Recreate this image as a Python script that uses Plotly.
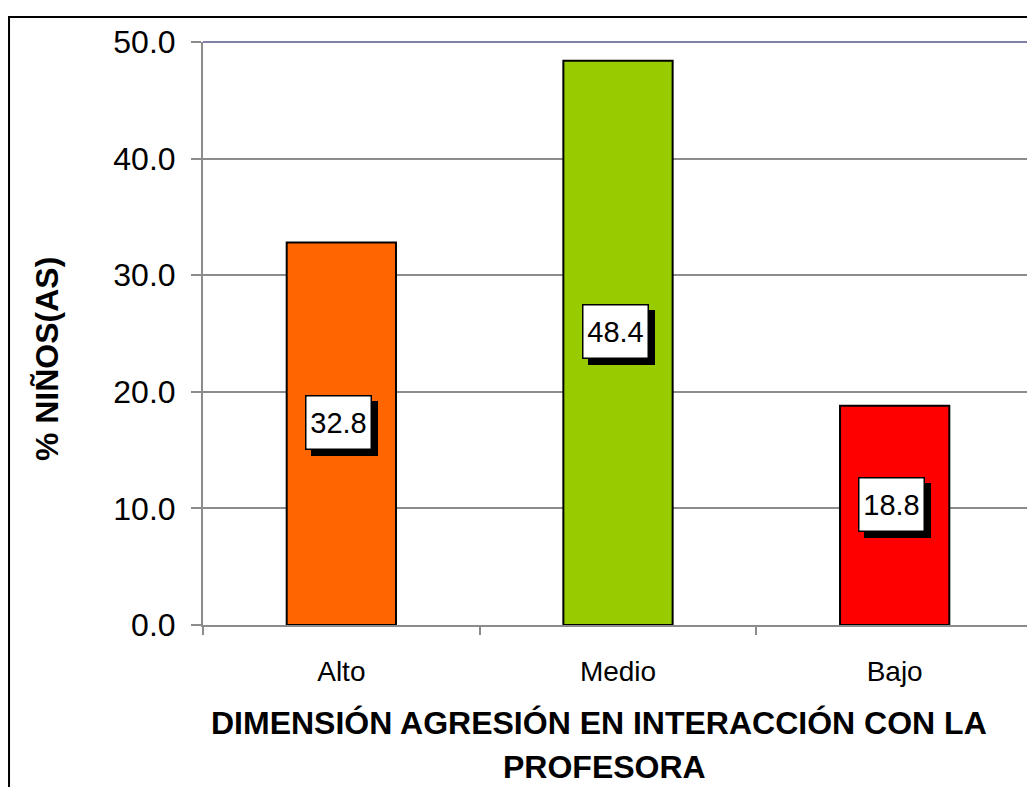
import plotly.graph_objects as go

categories = ["Alto", "Medio", "Bajo"]
values = [32.8, 48.4, 18.8]
bar_colors = ["#FF6600", "#99CC00", "#FF0000"]
y_ticks = [0, 10, 20, 30, 40, 50]
y_title = "% NIÑOS(AS)"
x_title_lines = ["DIMENSIÓN AGRESIÓN EN INTERACCIÓN CON LA", "PROFESORA"]

FONT = "Liberation Sans, Arial, sans-serif"

fig = go.Figure()
fig.add_trace(go.Bar(
    x=categories, y=values, width=0.395,
    marker=dict(color=bar_colors, line=dict(color="black", width=2)),
    hoverinfo="skip",
))

annotations = []
for c, v in zip(categories, values):
    # shadow box (no text)
    annotations.append(dict(
        x=c, y=v / 2, xref="x", yref="y", text="&nbsp;", showarrow=False,
        font=dict(family=FONT, size=29, color="black"),
        bgcolor="black", bordercolor="black", borderwidth=1.5,
        width=60, height=48, borderpad=2, xshift=-3 + 6, yshift=11 - 6,
    ))
    annotations.append(dict(
        x=c, y=v / 2, xref="x", yref="y", text=f"{v:.1f}", showarrow=False,
        font=dict(family=FONT, size=29, color="black"),
        bgcolor="white", bordercolor="black", borderwidth=1.5,
        width=60, height=48, borderpad=2, xshift=-3, yshift=11,
    ))

annotations.append(dict(
    x=-0.188, y=0.456, xref="paper", yref="paper", text=f"<b>{y_title}</b>",
    showarrow=False, textangle=-90, xanchor="center", yanchor="middle",
    font=dict(family=FONT, size=32, color="black"),
))
annotations.append(dict(
    x=0.477, y=-0.168, xref="paper", yref="paper", text=f"<b>{x_title_lines[0]}</b>",
    showarrow=False, xanchor="center", yanchor="middle",
    font=dict(family=FONT, size=32, color="black"),
))
annotations.append(dict(
    x=0.484, y=-0.2436, xref="paper", yref="paper", text=f"<b>{x_title_lines[1]}</b>",
    showarrow=False, xanchor="center", yanchor="middle",
    font=dict(family=FONT, size=32, color="black"),
))

shapes = [
    # outer chart border
    dict(type="rect", xref="paper", yref="paper", x0=-0.2337, y0=-0.5, x1=1.2, y1=1.0429,
         line=dict(color="black", width=2), fillcolor="rgba(0,0,0,0)", layer="above"),
    # plot area top and right edges
    dict(type="line", xref="paper", yref="paper", x0=0, x1=1, y0=1, y1=1,
         line=dict(color="#7f7fa8", width=2)),
    dict(type="line", xref="paper", yref="paper", x0=1, x1=1, y0=0, y1=1,
         line=dict(color="#7f7fa8", width=2)),
]

fig.update_layout(
    width=1035, height=787,
    margin=dict(l=195, r=10, t=34, b=170),
    paper_bgcolor="white", plot_bgcolor="white",
    showlegend=False, bargap=0.6,
    font=dict(family=FONT, color="black"),
    annotations=annotations, shapes=shapes,
    xaxis=dict(
        type="category", tickson="boundaries", ticks="outside", ticklen=8,
        tickcolor="#8c8c8c", tickwidth=2,
        showline=True, linecolor="#8c8c8c", linewidth=2,
        showgrid=False, tickfont=dict(family=FONT, size=28, color="black"),
        ticklabelstandoff=20,
    ),
    yaxis=dict(
        range=[0, 50], tickvals=y_ticks, tickformat=".1f",
        ticks="outside", ticklen=10, tickcolor="#8c8c8c", tickwidth=2,
        showline=True, linecolor="#8c8c8c", linewidth=2,
        showgrid=True, gridcolor="#8c8c8c", gridwidth=1.5,
        zeroline=False,
        tickfont=dict(family=FONT, size=32, color="black"),
        ticklabelstandoff=9,
    ),
)

fig.write_html("out.html")
